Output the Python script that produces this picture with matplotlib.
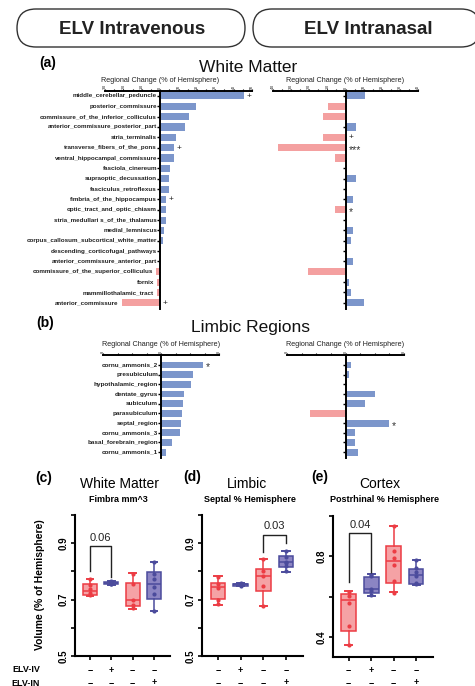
import matplotlib
matplotlib.use('Agg')
import matplotlib.pyplot as plt
from matplotlib.patches import FancyBboxPatch
from matplotlib.transforms import blended_transform_factory
import numpy as np

plt.rcParams['font.family'] = ['Liberation Sans', 'DejaVu Sans']

# ---------------- DATA ----------------
wm_regions = ['middle_cerebellar_peduncle', 'posterior_commissure',
              'commissure_of_the_inferior_colliculus', 'anterior_commissure_posterior_part',
              'stria_terminalis', 'transverse_fibers_of_the_pons', 'ventral_hippocampal_commissure',
              'fasciola_cinereum', 'supraoptic_decussation', 'fasciculus_retroflexus',
              'fimbria_of_the_hippocampus', 'optic_tract_and_optic_chiasm',
              'stria_medullari s_of_the_thalamus', 'medial_lemniscus',
              'corpus_callosum_subcortical_white_matter', 'descending_corticofugal_pathways',
              'anterior_commissure_anterior_part', 'commissure_of_the_superior_colliculus',
              'fornix', 'mammillothalamic_tract', 'anterior_commissure']
wm_iv = [45.5, 19.6, 15.5, 13.5, 8.5, 7.4, 7.4, 5.5, 4.6, 4.6, 3.3, 3.3, 3.3, 2.2, 1.5,
         0.3, 0.3, -2.2, -1.8, -1.8, -21.0]
wm_in = [11.0, -9.5, -12.5, 6.0, -12.5, -37.0, -6.0, 1.0, 6.0, 0.0, 4.0, -6.0, 0.0, 4.0,
         3.0, 0.0, 4.0, -20.5, 2.0, 3.0, 10.0]
wm_iv_sig = ['+', '', '', '', '', '+', '', '', '', '', '+', '', '', '', '', '', '', '', '', '', '+']
wm_in_sig = ['', '', '', '', '+', '***', '', '', '', '', '', '*', '', '', '', '', '', '', '', '', '']

limbic_regions = ['cornu_ammonis_2', 'presubiculum', 'hypothalamic_region', 'dentate_gyrus',
                  'subiculum', 'parasubiculum', 'septal_region', 'cornu_ammonis_3',
                  'basal_forebrain_region', 'cornu_ammonis_1']
limbic_iv = [5.75, 4.4, 4.1, 3.2, 3.0, 2.85, 2.75, 2.6, 1.5, 0.7]
limbic_in = [0.7, 0.5, 0.0, 4.0, 2.6, -4.8, 5.9, 1.3, 1.3, 1.7]
limbic_iv_sig = ['*', '', '', '', '', '', '', '', '', '']
limbic_in_sig = ['', '', '', '', '', '', '*', '', '', '']

wm_iv_ticks = [-30, -20, -10, 0, 10, 20, 30, 40, 50]
wm_in_ticks = [-40, -30, -20, -10, 0, 10, 20, 30, 40]
limbic_ticks = [-8, 0, 8]

iv_signs = ['−', '+', '−', '−']
in_signs = ['−', '−', '−', '+']

# box statistics: lo, q1, med, q3, hi per group
fimbria_lo = [0.714, 0.753, 0.667, 0.658]
fimbria_q1 = [0.718, 0.755, 0.676, 0.703]
fimbria_med = [0.732, 0.760, 0.699, 0.756]
fimbria_q3 = [0.754, 0.764, 0.758, 0.797]
fimbria_hi = [0.774, 0.766, 0.794, 0.833]
fimbria_pts = [[0.774, 0.752, 0.738, 0.725, 0.716],
               [0.754, 0.757, 0.760, 0.762, 0.765],
               [0.790, 0.757, 0.700, 0.680, 0.670],
               [0.833, 0.790, 0.774, 0.745, 0.720, 0.658]]

septal_lo = [0.682, 0.749, 0.679, 0.798]
septal_q1 = [0.703, 0.750, 0.732, 0.815]
septal_med = [0.744, 0.754, 0.782, 0.833]
septal_q3 = [0.758, 0.757, 0.810, 0.853]
septal_hi = [0.782, 0.758, 0.843, 0.871]
septal_pts = [[0.780, 0.756, 0.740, 0.700, 0.685],
              [0.749, 0.752, 0.754, 0.756, 0.758],
              [0.843, 0.800, 0.782, 0.750, 0.679],
              [0.871, 0.850, 0.835, 0.830, 0.820, 0.800]]

postrh_lo = [0.361, 0.605, 0.621, 0.659]
postrh_q1 = [0.431, 0.620, 0.665, 0.662]
postrh_med = [0.584, 0.637, 0.776, 0.708]
postrh_q3 = [0.613, 0.698, 0.849, 0.735]
postrh_hi = [0.629, 0.710, 0.951, 0.784]
postrh_pts = [[0.624, 0.605, 0.570, 0.455, 0.361],
              [0.708, 0.700, 0.640, 0.630, 0.608],
              [0.950, 0.826, 0.790, 0.757, 0.677, 0.620],
              [0.784, 0.740, 0.720, 0.700, 0.665, 0.660]]

# ---------------- STYLE ----------------
BLUE = '#7C96CB'
PINK = '#F4A0A0'
RED_E = '#EC3C44'
RED_F = '#F5A2A5'
BLU_E = '#4B4B9C'
BLU_F = '#8C85C3'

W, H = 475, 686
fig = plt.figure(figsize=(W / 100, H / 100), dpi=100)


def add_ax(x0, y0, x1, y1):
    return fig.add_axes([x0 / W, 1 - y1 / H, (x1 - x0) / W, (y1 - y0) / H])


def ftext(x, y, s, **kw):
    kw.setdefault('ha', 'center')
    kw.setdefault('va', 'center')
    fig.text(x / W, 1 - y / H, s, **kw)


# header boxes
for (x0, x1, label, cx) in [(17, 245, 'ELV Intravenous', 132), (253, 480, 'ELV Intranasal', 368)]:
    p = FancyBboxPatch((x0 / 100, (H - 47) / 100), (x1 - x0) / 100, 0.38,
                       boxstyle='round,pad=0,rounding_size=0.19',
                       transform=fig.dpi_scale_trans, facecolor='white',
                       edgecolor='#333333', linewidth=1.0, clip_on=False)
    fig.patches.append(p)
    ftext(cx, 29, label, fontsize=13.5, fontweight='bold', color='#222222')

ftext(48, 63, '(a)', fontsize=10, fontweight='bold')
ftext(248, 68, 'White Matter', fontsize=12.5, color='#111111')
ftext(45, 323, '(b)', fontsize=10, fontweight='bold')
ftext(251, 328, 'Limbic Regions', fontsize=12.5, color='#111111')


def bar_panel(ax, values, sig, ticks, minor_step, labels, top_y, lab_fs, bar_h, ylim):
    n = len(values)
    y = np.arange(n)
    colors = [BLUE if v >= 0 else PINK for v in values]
    ax.barh(y, values, height=bar_h, color=colors, zorder=2)
    ax.set_xlim(ticks[0], ticks[-1])
    ax.set_ylim(*ylim)
    ax.xaxis.tick_top()
    ax.set_xticks(ticks)
    ax.set_xticks(np.arange(ticks[0], ticks[-1] + 0.01, minor_step), minor=True)
    ax.set_xticklabels([str(t) for t in ticks], rotation=90, fontsize=2.5)
    ax.tick_params(axis='x', which='both', direction='out', length=1.5, width=0.8, pad=0.2)
    for s in ['bottom', 'right']:
        ax.spines[s].set_visible(False)
    ax.spines['top'].set_linewidth(1.4)
    ax.spines['left'].set_position(('data', 0))
    ax.spines['left'].set_linewidth(1.4)
    ax.spines['left'].set_zorder(3)
    ax.set_yticks(y)
    ax.set_yticklabels([])
    ax.tick_params(axis='y', length=2, width=1.0, pad=0.4)
    if labels:
        for i, lab in enumerate(labels):
            ax.annotate(lab, (min(values[i], 0), i), xytext=(-2.2, 0), textcoords='offset points',
                        va='center', ha='right', fontsize=lab_fs, fontweight='bold',
                        color='#222222')
    for i, s in enumerate(sig):
        if s:
            if s == '+':
                ax.annotate(s, (max(values[i], 0), i), xytext=(2, -0.3), textcoords='offset points',
                            va='center', ha='left', fontsize=6, color='#222222')
            else:
                ax.annotate(s, (max(values[i], 0), i), xytext=(2.5, -1.8), textcoords='offset points',
                            va='center', ha='left', fontsize=7.5, color='#333333')
    tr = blended_transform_factory(ax.transData, fig.transFigure)
    ax.text(0, 1 - top_y / H, 'Regional Change (% of Hemisphere)', transform=tr,
            ha='center', va='center', fontsize=5.2, color='#222222')


ax1 = add_ax(105, 91, 252, 309)
bar_panel(ax1, wm_iv, wm_iv_sig, wm_iv_ticks, 5, wm_regions, 80, 4.5, 0.68, (20.6, -0.48))
ax2 = add_ax(273, 91, 418, 309)
bar_panel(ax2, wm_in, wm_in_sig, wm_in_ticks, 5, None, 80, 4.5, 0.68, (20.6, -0.48))
ax3 = add_ax(103, 355, 219, 458)
bar_panel(ax3, limbic_iv, limbic_iv_sig, limbic_ticks, 2, limbic_regions, 344, 4.6, 0.7, (9.6, -1.03))
ax4 = add_ax(287, 355, 404, 458)
bar_panel(ax4, limbic_in, limbic_in_sig, limbic_ticks, 2, None, 344, 4.6, 0.7, (9.6, -1.03))


def box_panel(ax, lo, q1, med, q3, hi, pts, ylim, yticks, ylabels, bracket):
    stats = []
    for i in range(4):
        stats.append(dict(whislo=lo[i], q1=q1[i], med=med[i], q3=q3[i], whishi=hi[i], fliers=[]))
    pos = [1, 2, 3, 4]
    b = ax.bxp(stats, positions=pos, widths=0.65, patch_artist=True, showfliers=False,
               capwidths=0.32)
    for i in range(4):
        if i % 2 == 0:
            ec, fc = RED_E, RED_F
        else:
            ec, fc = BLU_E, BLU_F
        b['boxes'][i].set(facecolor=fc, edgecolor=ec, linewidth=1.1)
        b['medians'][i].set(color=ec, linewidth=1.1)
        for w in b['whiskers'][2 * i:2 * i + 2]:
            w.set(color=ec, linewidth=1.1)
        for c in b['caps'][2 * i:2 * i + 2]:
            c.set(color=ec, linewidth=1.4)
        ax.scatter([pos[i]] * len(pts[i]), pts[i], s=9, color=ec, zorder=4, linewidths=0)
    ax.set_xlim(0.3, 4.75)
    ax.set_ylim(*ylim)
    ax.set_yticks(yticks)
    ax.set_yticklabels(ylabels, rotation=90, fontsize=7, fontweight='bold', va='center')
    ax.set_xticks(pos)
    ax.set_xticklabels([])
    ax.tick_params(axis='both', length=3, width=1.2, pad=1.5)
    for s in ['top', 'right']:
        ax.spines[s].set_visible(False)
    for s in ['left', 'bottom']:
        ax.spines[s].set_linewidth(1.5)
    (x1, x2, yl, yr, ytop, label, ylab) = bracket
    ax.plot([x1, x1, x2, x2], [yl, ytop, ytop, yr], color='#222222', linewidth=1.0)
    ax.text((x1 + x2) / 2, ylab, label, ha='center', va='center', fontsize=8, color='#222222')
    tr = blended_transform_factory(ax.transData, fig.transFigure)
    for i in range(4):
        ax.text(pos[i], 1 - 670 / H, iv_signs[i], transform=tr, ha='center', va='center',
                fontsize=6.5, fontweight='bold')
        ax.text(pos[i], 1 - 683 / H, in_signs[i], transform=tr, ha='center', va='center',
                fontsize=6.5, fontweight='bold')


axc = add_ax(75, 515, 170, 656)
box_panel(axc, fimbria_lo, fimbria_q1, fimbria_med, fimbria_q3, fimbria_hi, fimbria_pts,
          (0.5, 1.0), [0.5, 0.6, 0.7, 0.8, 0.9, 1.0], ['0.5', '', '0.7', '', '0.9', ''],
          (1, 2, 0.80, 0.78, 0.889, '0.06', 0.918))
axd = add_ax(202, 515, 303, 656)
box_panel(axd, septal_lo, septal_q1, septal_med, septal_q3, septal_hi, septal_pts,
          (0.5, 1.0), [0.5, 0.6, 0.7, 0.8, 0.9, 1.0], ['0.5', '', '0.7', '', '0.9', ''],
          (3, 4, 0.869, 0.90, 0.929, '0.03', 0.961))
axe = add_ax(333, 516, 433, 657)
box_panel(axe, postrh_lo, postrh_q1, postrh_med, postrh_q3, postrh_hi, postrh_pts,
          (0.3, 1.0), [0.4, 0.6, 0.8, 1.0], ['0.4', '', '0.8', ''],
          (1, 2, 0.67, 0.719, 0.914, '0.04', 0.956))

ftext(44, 478, '(c)', fontsize=10, fontweight='bold')
ftext(119, 484, 'White Matter', fontsize=10)
ftext(118, 500, 'Fimbra mm^3', fontsize=6.5, fontweight='bold')
ftext(192, 477, '(d)', fontsize=10, fontweight='bold')
ftext(247, 484, 'Limbic', fontsize=10)
ftext(250, 500, 'Septal % Hemisphere', fontsize=6.5, fontweight='bold')
ftext(320, 477, '(e)', fontsize=10, fontweight='bold')
ftext(380, 484, 'Cortex', fontsize=10)
ftext(384, 500, 'Postrhinal % Hemisphere', fontsize=6.5, fontweight='bold')
ftext(40, 585, 'Volume (% of Hemisphere)', fontsize=7.5, fontweight='bold', rotation=90)
ftext(26, 670, 'ELV-IV', fontsize=6.5, fontweight='bold')
ftext(26, 683, 'ELV-IN', fontsize=6.5, fontweight='bold')

fig.savefig('out.png', dpi=100)
